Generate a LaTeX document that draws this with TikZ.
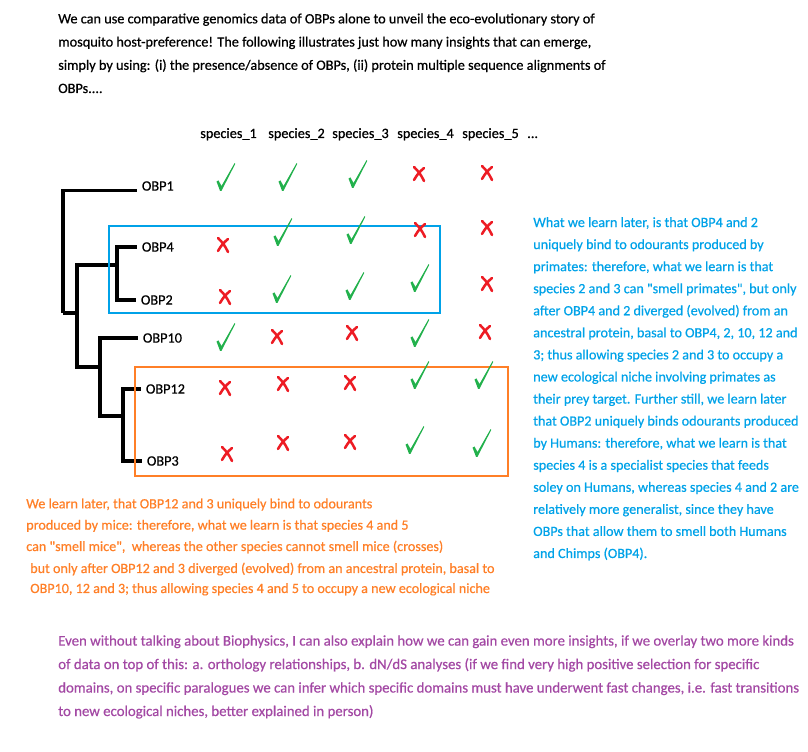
\documentclass[tikz,border=0pt]{standalone}
\usepackage{fontspec}
\setmainfont{Carlito}[FakeBold=0.6]
\definecolor{pblue}{HTML}{00A2E8}
\definecolor{porange}{HTML}{FF7F27}
\definecolor{pgreen}{HTML}{22B14C}
\definecolor{pred}{HTML}{ED1C24}
\definecolor{ppurple}{HTML}{A349A4}
\begin{document}
\begin{tikzpicture}[x=0.75pt,y=-0.75pt,
    txt/.style={anchor=base west,inner sep=0pt,align=left,font=\fontsize{10.7}{17.4}\selectfont},
    leaf/.style={anchor=west,inner xsep=3.5pt,inner ysep=1pt,font=\fontsize{10.7}{14}\selectfont},
    branch/.style={line width=2.3pt},
    chk/.pic={\fill[pgreen](-9.5,4.5)--(-7.5,3.5)--(-4.5,9)--(8.5,-13.8)--(9.3,-13.2)--(-4.5,13.8)--(-6,13.8)--cycle;},
    crs/.pic={\draw[pred,line width=1.9pt,line cap=round](-5,-7)to[bend left=10](5,7)(5,-6)to[bend right=10](-5,6);}]
    \useasboundingbox(0,0)rectangle(808,752);
    \node[txt](intro)at(58,93){We can use comparative genomics data of OBPs alone to unveil the eco-evolutionary story of\\
        mosquito host-preference! The following illustrates just how many insights that can emerge,\\
        simply by using: (i) the presence/absence of OBPs, (ii) protein multiple sequence alignments of\\
        OBPs....};
    \foreach \i/\x in {1/200,2/268,3/332,4/397,5/462}
        \node[txt](s\i)at(\x,138){species\_\i};
    \node[txt](dots)at(527,138){...};
    % tree
    \node[leaf](OBP1)at(137,186){OBP1};
    \node[leaf](OBP4)at(137,247){OBP4};
    \node[leaf](OBP2)at(136,300){OBP2};
    \node[leaf](OBP10)at(138,338){OBP10};
    \node[leaf](OBP12)at(141,389){OBP12};
    \node[leaf](OBP3)at(142,461){OBP3};
    \coordinate(n1)at(63,313);
    \coordinate(n2)at(77,313);
    \coordinate(n3)at(117,265);
    \coordinate(n4)at(100,367);
    \coordinate(n5)at(123,416);
    \draw[branch](n1)|-(OBP1.base west) (n1)--(n2)|-(n3) (n2)|-(n4);
    \draw[branch](n3)|-(OBP4.west) (n3)|-(OBP2.west);
    \draw[branch](n4)|-(OBP10.west) (n4)|-(n5);
    \draw[branch](n5)|-(OBP12.west) (n5)|-(OBP3.west);
    % boxes
    \draw[pblue,line width=2.2pt](109,226)rectangle(440,313);
    \draw[porange,line width=2.2pt](135,367)rectangle(508,476);
    % presence / absence
    \foreach \x/\y in {226/177,288/177,358/174,283/232,356/230,282/289,355/286,420/278,
        226/337,420/333,420/375,484/375,415/440,482/443}
        \pic at(\x,\y){chk};
    \foreach \x/\y in {419/174,487/173,223/245,420/230,487/228,225/297,487/284,277/337,
        352/333,485/332,225/388,283/384,350/383,227/454,283/443,350/442}
        \pic at(\x,\y){crs};
    % notes
    \node[txt,text=pblue,font=\fontsize{10.6}{16.55}\selectfont](primates)at(533,558){What we learn later, is that OBP4 and 2\\
        uniquely bind to odourants produced by\\
        primates: therefore, what we learn is that\\
        species 2 and 3 can \textquotedbl smell primates\textquotedbl, but only\\
        after OBP4 and 2 diverged (evolved) from an\\
        ancestral protein, basal to OBP4, 2, 10, 12 and\\
        3; thus allowing species 2 and 3 to occupy a\\
        new ecological niche involving primates as\\
        their prey target. Further still, we learn later\\
        that OBP2 uniquely binds odourants produced\\
        by Humans: therefore, what we learn is that\\
        species 4 is a specialist species that feeds\\
        soley on Humans, whereas species 4 and 2 are\\
        relatively more generalist, since they have\\
        OBPs that allow them to smell both Humans\\
        and Chimps (OBP4).};
    \node[txt,text=porange,font=\fontsize{10.6}{16}\selectfont](mice)at(26,551){We learn later, that OBP12 and 3 uniquely bind to odourants\\
        produced by mice: therefore, what we learn is that species 4 and 5\\
        can \textquotedbl smell mice\textquotedbl, \ whereas the other species cannot smell mice (crosses)};
    \node[txt,text=porange,font=\fontsize{10.6}{15}\selectfont](niche)at(30,593){but only after OBP12 and 3 diverged (evolved) from an ancestral protein, basal to\\
        OBP10, 12 and 3; thus allowing species 4 and 5 to occupy a new ecological niche};
    \node[txt,text=ppurple,font=\fontsize{11.1}{17.6}\selectfont](insight)at(58,716){Even without talking about Biophysics, I can also explain how we can gain even more insights, if we overlay two more kinds\\
        of data on top of this: a. orthology relationships, b. dN/dS analyses (if we find very high positive selection for specific\\
        domains, on specific paralogues we can infer which specific domains must have underwent fast changes, i.e. fast transitions\\
        to new ecological niches, better explained in person)};
\end{tikzpicture}
\end{document}
